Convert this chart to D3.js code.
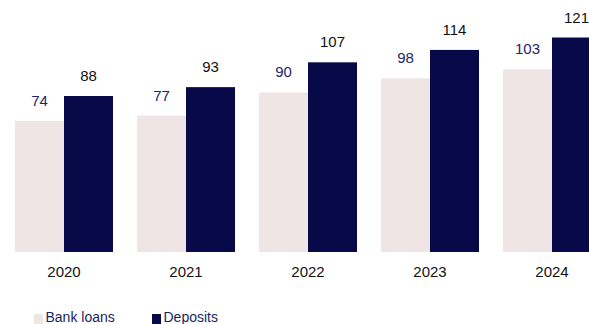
<!DOCTYPE html>
<html>
<head>
<meta charset="utf-8">
<script src="https://cdn.jsdelivr.net/npm/d3@7"></script>
<style>
  html, body { margin: 0; padding: 0; background: #ffffff; overflow: hidden; }
  svg { display: block; font-family: "Liberation Sans", Arial, sans-serif; }
</style>
</head>
<body>
<svg id="chart" width="589" height="324"></svg>
<script>
// Yearly bank loans vs. deposits
const years = ["2020", "2021", "2022", "2023", "2024"];
const seriesNames = ["Bank loans", "Deposits"];
const bankLoans = [74, 77, 90, 98, 103];
const deposits = [88, 93, 107, 114, 121];

const colors = { "Bank loans": "#eee5e4", "Deposits": "#080948" };
const labelColors = { "Bank loans": "#1f2468", "Deposits": "#111111" };

const rows = years.map((y, i) => ({ year: y, values: [
  { key: "Bank loans", value: bankLoans[i] },
  { key: "Deposits", value: deposits[i] }
]}));

const svg = d3.select("#chart");

const baseY = 252;
const x0 = d3.scaleBand().domain(years).range([15, 601]).paddingInner(24 / 122).paddingOuter(0);
const x1 = d3.scaleBand().domain(seriesNames).range([0, x0.bandwidth()]).padding(0);
const y = d3.scaleLinear().domain([0, 121]).range([baseY, 37.5]);

const groups = svg.selectAll("g.year").data(rows).join("g")
  .attr("class", "year")
  .attr("transform", d => `translate(${x0(d.year)},0)`);

groups.selectAll("rect").data(d => d.values).join("rect")
  .attr("x", d => x1(d.key))
  .attr("y", d => y(d.value))
  .attr("width", x1.bandwidth())
  .attr("height", d => baseY - y(d.value))
  .attr("fill", d => colors[d.key]);

groups.selectAll("text.val").data(d => d.values).join("text")
  .attr("class", "val")
  .attr("x", d => x1(d.key) + x1.bandwidth() / 2)
  .attr("y", d => y(d.value) - 15)
  .attr("text-anchor", "middle")
  .attr("font-size", 15)
  .attr("fill", d => labelColors[d.key])
  .text(d => d.value);

// Category axis labels
const xAxis = d3.axisBottom(x0).tickSize(0).tickPadding(0);
const axisG = svg.append("g").attr("transform", `translate(0,${baseY})`).call(xAxis);
axisG.select(".domain").remove();
axisG.selectAll("text")
  .attr("y", 25)
  .attr("dy", null)
  .attr("font-size", 15)
  .attr("font-family", "\"Liberation Sans\", Arial, sans-serif")
  .attr("fill", "#111111");

// Legend
const legendX = [34, 152];
const legend = svg.selectAll("g.legend").data(seriesNames).join("g")
  .attr("class", "legend")
  .attr("transform", (d, i) => `translate(${legendX[i]},313)`);
legend.append("rect")
  .attr("x", 0).attr("y", 1)
  .attr("width", 9).attr("height", 10)
  .attr("fill", d => colors[d]);
legend.append("text")
  .attr("x", 11.5).attr("y", 9)
  .attr("font-size", 14)
  .attr("fill", "#1a1f60")
  .text(d => d);
</script>
</body>
</html>
